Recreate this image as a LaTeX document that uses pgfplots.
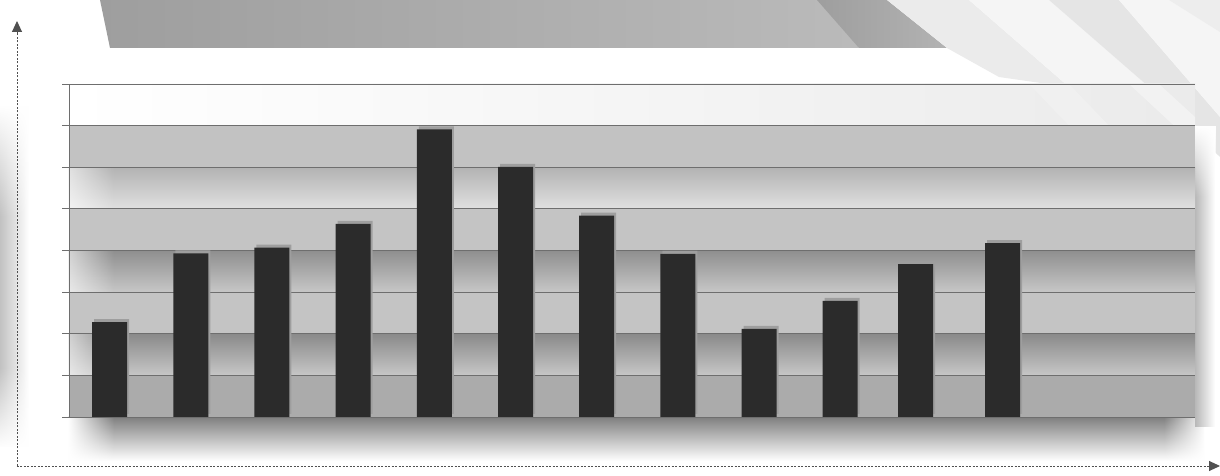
\documentclass[border=0pt]{standalone}
\usepackage{pgfplots}
\pgfplotsset{compat=1.18}
\usetikzlibrary{shadows,fadings,arrows.meta}
\definecolor{barc}{HTML}{2B2B2B}
\definecolor{gridc}{HTML}{6E6E6E}
\definecolor{axc}{HTML}{505050}
\pgfplotstableread{
x y
0 2.28
1 3.93
2 4.07
3 4.64
4 6.91
5 6.01
6 4.84
7 3.92
8 2.12
9 2.79
9.93 3.67
11 4.18
}\bardata
\begin{document}
\begin{tikzpicture}[x=1pt,y=1pt]
\path[use as bounding box] (-69,-59) rectangle (1151,417);
\fill[white] (-69,-59) rectangle (1151,417);
% left soft gradient
\shade[left color=black!24, right color=white] (-69,-30) rectangle (-40,310);
\fill[white, path fading=south] (-69,200) rectangle (-40,311);
\fill[white, path fading=north] (-69,-31) rectangle (-40,50);
% top trapezoid
\shade[left color=black!38, right color=black!27] (31,417) -- (760,417) -- (790,369) -- (41,369) -- cycle;
\shade[left color=black!38, right color=black!30] (748,417) -- (818,417) -- (878,369) -- (790,369) -- cycle;
% right streak decoration
\fill[black!8] (818,417) -- (900,417) -- (1000,330) -- (930,340) -- (878,369) -- cycle;
\fill[black!4] (900,417) -- (980,417) -- (1080,330) -- (1000,330) -- cycle;
\fill[black!10] (980,417) -- (1050,417) -- (1151,300) -- (1151,260) -- (1080,330) -- cycle;
\fill[black!4] (1050,417) -- (1151,417) -- (1151,300) -- cycle;
\fill[black!7] (1100,417) -- (1151,417) -- (1151,385) -- cycle;
% shadows of the plot area (bottom and right)
\shade[top color=black!50, bottom color=white] (0,0) rectangle (1135,-44);
\fill[white, path fading=east] (-1,-45) rectangle (45,0);
\fill[white, path fading=west] (1095,-45) rectangle (1136,0);
\shade[left color=black!28, right color=white] (1126,-10) rectangle (1146,290);
\fill[white, path fading=south] (1126,220) rectangle (1147,291);
% bands (value i to i+1, 41.625pt each); gray bands and shaded gaps
\fill[black!33] (0,0) rectangle (1126,41.625);
\shade[top color=black!46, bottom color=black!22] (0,41.625) rectangle (1126,83.25);
\fill[black!23] (0,83.25) rectangle (1126,124.875);
\shade[top color=black!44, bottom color=black!22] (0,124.875) rectangle (1126,166.5);
\fill[black!23] (0,166.5) rectangle (1126,208.125);
\shade[top color=black!30, bottom color=black!12] (0,208.125) rectangle (1126,249.75);
\fill[black!24] (0,249.75) rectangle (1126,291.375);
\shade[left color=white, right color=black!8] (0,291.375) rectangle (1126,333);
% faint streaks over the top band
\fill[black!6] (960,333) -- (1000,333) -- (1040,291.375) -- (1000,291.375) -- cycle;
\fill[black!5] (1060,333) -- (1090,333) -- (1126,300) -- (1126,291.375) -- (1105,291.375) -- cycle;
% lighter left ends of the gap bands
\fill[white, path fading=east, opacity=0.6] (0,41.625) rectangle (45,83.25);
\fill[white, path fading=east, opacity=0.6] (0,124.875) rectangle (45,166.5);
\fill[white, path fading=east, opacity=0.6] (0,208.125) rectangle (45,249.75);
% dashed axes with arrows
\draw[axc, line width=0.9pt, dash pattern=on 2pt off 1.5pt, -{Triangle[length=11pt,width=10pt]}] (-52,-49) -- (-52,396);
\draw[axc, line width=0.9pt, dash pattern=on 2pt off 1.5pt, -{Triangle[length=11pt,width=10pt]}] (-52,-49) -- (1151,-49);
\begin{axis}[
  at={(0,0)}, anchor=south west,
  scale only axis, width=1126pt, height=333pt,
  xmin=-0.5, xmax=13.37, ymin=0, ymax=8,
  axis x line*=bottom, axis y line*=left,
  ytick={0,...,8}, yticklabels={}, xtick=\empty,
  tick align=outside, major tick length=7pt,
  ymajorgrids,
  grid style={draw=gridc, line width=0.8pt},
  axis line style={draw=gridc, line width=0.8pt, -},
  tick style={draw=gridc, line width=0.8pt},
  ybar, bar width=35pt,
]
\addplot[fill=barc, draw=none,
  general shadow={fill=black!38, shadow xshift=2pt, shadow yshift=3pt}]
  table[x=x, y=y] {\bardata};
\end{axis}
\end{tikzpicture}
\end{document}
